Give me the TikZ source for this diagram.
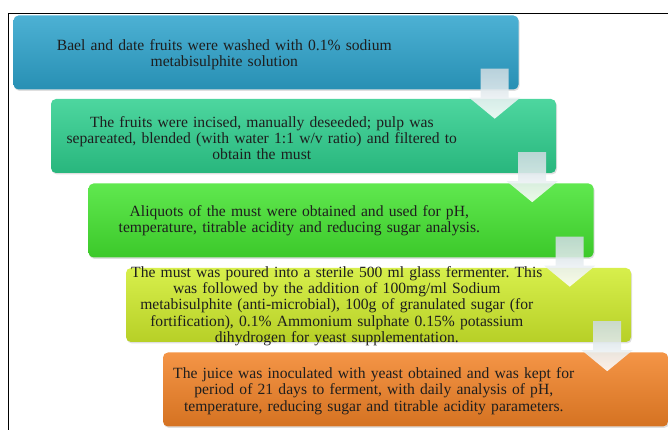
\documentclass[tikz,border=0pt]{standalone}
\usepackage{fontspec}
\setmainfont{Liberation Serif}
\usepackage{xcolor}
\usepackage{tikz}
\usetikzlibrary{positioning, shadows}
\frenchspacing

\definecolor{boxA}{HTML}{2DA3CC}
\definecolor{boxB}{HTML}{2ECF8E}
\definecolor{boxC}{HTML}{44E430}
\definecolor{boxD}{HTML}{D0EC2C}
\definecolor{boxE}{HTML}{F28226}
\definecolor{arrowtop}{HTML}{CCDAE0}
\definecolor{inktext}{HTML}{1E1E1E}

\begin{document}
\begin{tikzpicture}[x=1pt, y=1pt,
  stepbox/.style={rectangle, rounded corners=5pt, minimum width=505pt, minimum height=74pt,
    inner sep=0pt, top color=#1!85!white, bottom color=#1!88!black,
    drop shadow={shadow xshift=1pt, shadow yshift=-1.5pt, opacity=0.25}},
  steptext/.style={text width=440pt, align=center, inner sep=0pt, text=inktext,
    font=\fontsize{15.6}{16.2}\selectfont},
  steparrow/.style={top color=arrowtop, bottom color=white, fill opacity=0.88}]
\useasboundingbox (0,0) rectangle (668,430);
\draw[line width=0.8pt] (8,0) -- (8,417) -- (668,417);

\node[stepbox=boxA] (b1) at (266,377.5) {};
\node[stepbox=boxB] (b2) at (303.5,294) {};
\node[stepbox=boxC] (b3) at (341,209.5) {};
\node[stepbox=boxD] (b4) at (378.5,125) {};
\node[stepbox=boxE] (b5) at (415.5,40.5) {};

% arrows between the steps
\foreach \i in {1,...,4} {
  \coordinate (a\i) at ([xshift=-24pt,yshift=21pt]b\i.south east);
  \shade[steparrow] ([xshift=-14pt]a\i) -- ++(28,0) -- ++(0,-29) -- ++(11.5,0)
    -- ++(-25.5,-21) -- ++(-25.5,21) -- ++(11.5,0) -- cycle;
}

\node[steptext] (t1) at ([xshift=211pt,yshift=-2pt]b1.west)
  {Bael and date fruits were washed with 0.1\% sodium\\ metabisulphite solution};
\node[steptext] (t2) at ([xshift=211pt,yshift=-2pt]b2.west)
  {The fruits were incised, manually deseeded; pulp was\\ separeated, blended (with water 1:1 w/v ratio) and filtered to\\ obtain the must};
\node[steptext] (t3) at ([xshift=211pt]b3.west)
  {Aliquots of the must were obtained and used for pH,\\ temperature, titrable acidity and reducing sugar analysis.};
\node[steptext] (t4) at ([xshift=211pt,yshift=-1pt]b4.west)
  {The must was poured into a sterile 500 ml glass fermenter. This\\ was followed by the addition of 100mg/ml Sodium\\ metabisulphite (anti-microbial), 100g of granulated sugar (for\\ fortification), 0.1\% Ammonium sulphate 0.15\% potassium\\ dihydrogen for yeast supplementation.};
\node[steptext] (t5) at ([xshift=211pt,yshift=-1.5pt]b5.west)
  {The juice was inoculated with yeast obtained and was kept for\\ period of 21 days to ferment, with daily analysis of pH,\\ temperature, reducing sugar and titrable acidity parameters.};
\end{tikzpicture}
\end{document}
